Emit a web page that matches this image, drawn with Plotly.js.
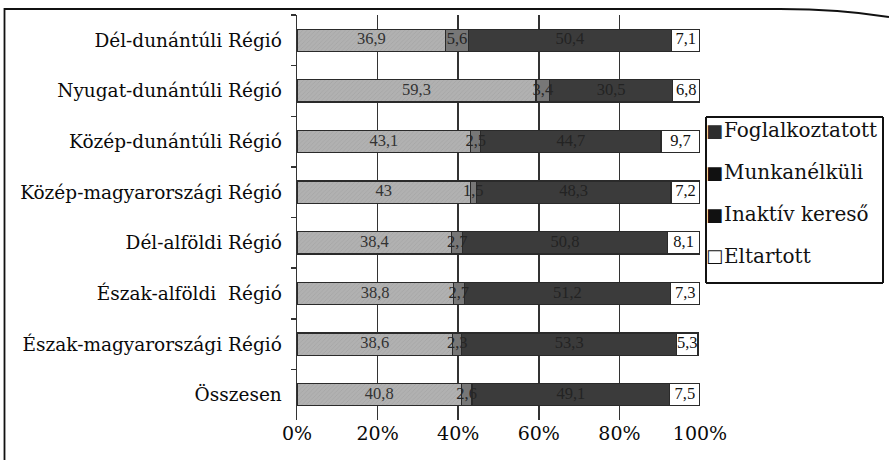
<!DOCTYPE html>
<html>
<head>
<meta charset="utf-8">
<script src="https://cdn.plot.ly/plotly-3.0.1.min.js"></script>
<style>
  html, body { margin: 0; padding: 0; background: #ffffff; }
  #wrap { position: relative; width: 889px; height: 460px; overflow: hidden; }
  #chart { position: absolute; left: 0; top: 0; width: 889px; height: 460px; }
  #frame { position: absolute; left: 0; top: 0; width: 889px; height: 460px; pointer-events: none; z-index: 5; }
</style>
</head>
<body>
<div id="wrap">
  <div id="chart"></div>
  <svg id="frame" width="889" height="460">
    <path d="M4.5 460 L4.5 9 L780 9 Q840 9 889 17" fill="none" stroke="#111" stroke-width="1.8"/>
  </svg>
</div>
<script>
// Regions, top to bottom
const regions = [
  'Dél-dunántúli Régió',
  'Nyugat-dunántúli Régió',
  'Közép-dunántúli Régió',
  'Közép-magyarországi Régió',
  'Dél-alföldi Régió',
  'Észak-alföldi  Régió',
  'Észak-magyarországi Régió',
  'Összesen'
];

// Share of population by economic activity (%)
const foglalkoztatott = [36.9, 59.3, 43.1, 43.0, 38.4, 38.8, 38.6, 40.8];
const munkanelkuli    = [5.6, 3.4, 2.5, 1.5, 2.7, 2.7, 2.3, 2.6];
const inaktivKereso   = [50.4, 30.5, 44.7, 48.3, 50.8, 51.2, 53.3, 49.1];
const eltartott       = [7.1, 6.8, 9.7, 7.2, 8.1, 7.3, 5.3, 7.5];

const seriesNames = ['Foglalkoztatott', 'Munkanélküli', 'Inaktív kereső', 'Eltartott'];
const legendSymbols = ['■', '■', '■', '□'];
const tickVals = [0, 20, 40, 60, 80, 100];
const tickText = ['0%', '20%', '40%', '60%', '80%', '100%'];

const serif = '"DejaVu Serif", "Liberation Serif", serif';
const numSerif = '"Liberation Serif", "DejaVu Serif", serif';
const fmt = v => String(v).replace('.', ',');

const styles = [
  { fill: '#adadad', text: '#333333', key: '#2e2e2e',
    pattern: { shape: '/', fgcolor: '#a2a2a2', bgcolor: '#b1b1b1', size: 3, solidity: 0.2 } },
  { fill: '#777777', text: '#262626', key: '#111111', pattern: null },
  { fill: '#3b3b3b', text: '#232323', key: '#111111', pattern: null },
  { fill: '#ffffff', text: '#111111', key: '#111111', pattern: null }
];

const values = [foglalkoztatott, munkanelkuli, inaktivKereso, eltartott];

// Stacked bars
const barTraces = values.map((vals, i) => {
  const marker = { color: styles[i].fill, line: { color: '#2a2a2a', width: 1.2 } };
  if (styles[i].pattern) marker.pattern = styles[i].pattern;
  return {
    type: 'bar',
    orientation: 'h',
    name: seriesNames[i],
    y: regions,
    x: vals,
    marker: marker,
    showlegend: false,
    hoverinfo: 'name+x'
  };
});

// Value labels, centred in each segment and drawn above all bars
const labelTraces = values.map((vals, i) => {
  const mids = vals.map((v, r) => {
    let base = 0;
    for (let k = 0; k < i; k++) base += values[k][r];
    return base + v / 2;
  });
  return {
    type: 'scatter',
    mode: 'text',
    y: regions,
    x: mids,
    text: vals.map(fmt),
    textposition: 'middle center',
    textfont: { family: numSerif, size: 16.5, color: styles[i].text },
    cliponaxis: false,
    showlegend: false,
    hoverinfo: 'skip'
  };
});

// Key entries to the right of the plot, placed in paper coordinates
const plotLeft = 297, plotW = 403, plotTop = 15, plotH = 405;
const px = x => (x - plotLeft) / plotW;
const py = y => (plotTop + plotH - y) / plotH;
const legendRows = [130, 172, 214, 256];

const annotations = [];
seriesNames.forEach((name, i) => {
  annotations.push({
    xref: 'paper', yref: 'paper',
    x: px(714), y: py(legendRows[i]),
    xanchor: 'center', yanchor: 'middle',
    text: legendSymbols[i],
    showarrow: false,
    font: { family: '"DejaVu Sans", sans-serif', size: 18, color: styles[i].key }
  });
  annotations.push({
    xref: 'paper', yref: 'paper',
    x: px(722), y: py(legendRows[i]),
    xanchor: 'left', yanchor: 'middle',
    text: name,
    showarrow: false,
    font: { family: serif, size: 20, color: '#111111' }
  });
});

// Outline of the key
const shapes = [
  { type: 'line', xref: 'paper', yref: 'paper', x0: px(706), x1: px(883), y0: py(117), y1: py(117), line: { color: '#111111', width: 2 } },
  { type: 'line', xref: 'paper', yref: 'paper', x0: px(706), x1: px(883), y0: py(283), y1: py(283), line: { color: '#111111', width: 2 } },
  { type: 'line', xref: 'paper', yref: 'paper', x0: px(706), x1: px(706), y0: py(117), y1: py(283), line: { color: '#111111', width: 2 } },
  { type: 'line', xref: 'paper', yref: 'paper', x0: px(883), x1: px(883), y0: py(117), y1: py(283), line: { color: '#111111', width: 2 } }
];

const layout = {
  width: 889,
  height: 460,
  margin: { l: 297, r: 189, t: 15, b: 40 },
  paper_bgcolor: '#ffffff',
  plot_bgcolor: '#ffffff',
  barmode: 'stack',
  bargap: 0.56,
  showlegend: false,
  annotations: annotations,
  shapes: shapes,
  xaxis: {
    range: [0, 100],
    tickvals: tickVals,
    ticktext: tickText,
    showgrid: true,
    gridcolor: '#333333',
    gridwidth: 1.5,
    zeroline: false,
    showline: false,
    ticks: '',
    tickfont: { family: serif, size: 19, color: '#0a0a0a' },
    fixedrange: true
  },
  yaxis: {
    type: 'category',
    categoryorder: 'array',
    categoryarray: regions,
    autorange: 'reversed',
    showline: true,
    linecolor: '#333333',
    linewidth: 1.5,
    ticks: 'outside',
    tickson: 'boundaries',
    ticklen: 5,
    tickcolor: '#333333',
    tickwidth: 1.5,
    showgrid: false,
    tickfont: { family: serif, size: 18.5, color: '#0a0a0a' },
    ticklabelstandoff: 10,
    fixedrange: true
  }
};

Plotly.newPlot('chart', barTraces.concat(labelTraces), layout, { displayModeBar: false, staticPlot: true });
</script>
</body>
</html>
